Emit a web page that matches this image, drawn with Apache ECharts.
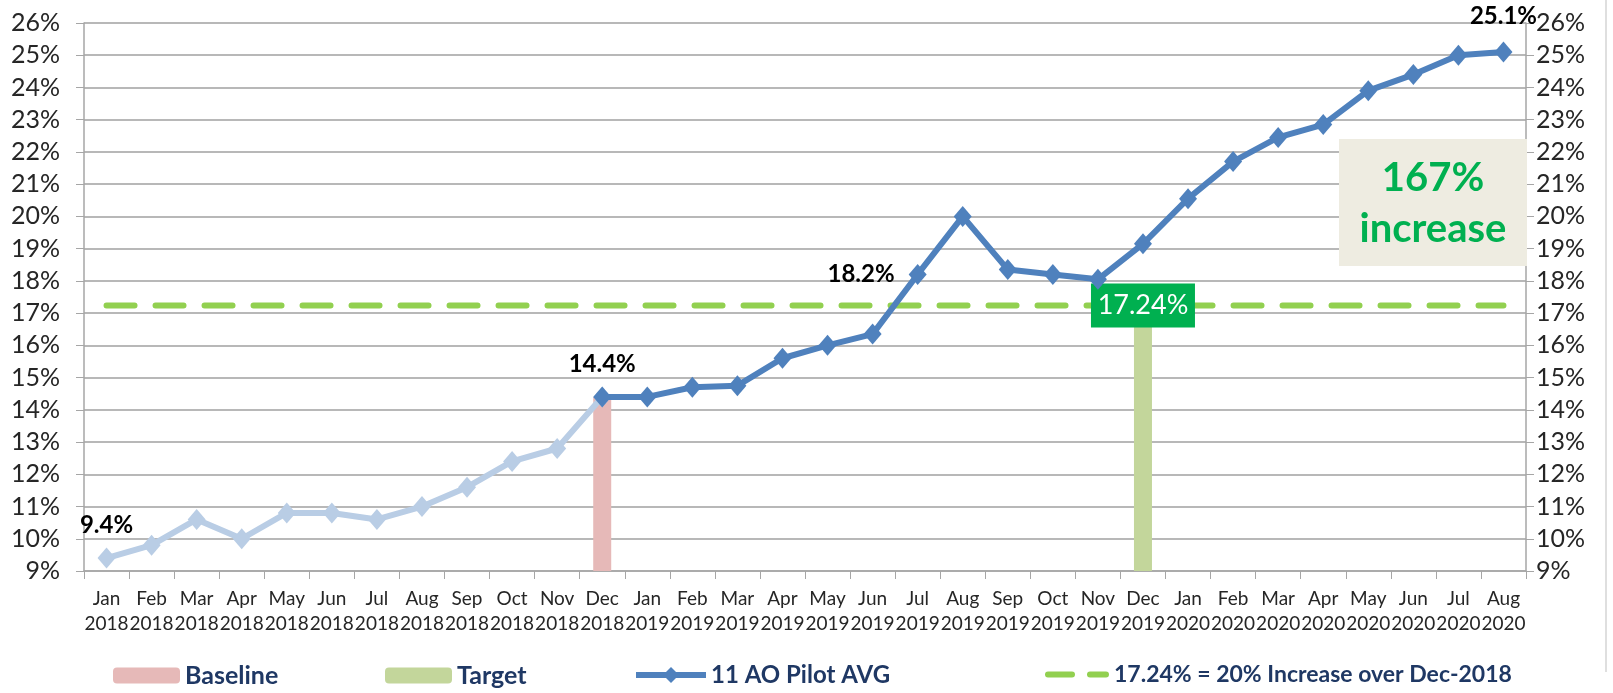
<!DOCTYPE html>
<html lang="en">
  <head>
    <meta charset="UTF-8" />
    <title>11 AO Pilot AVG</title>
    <script src="https://cdn.jsdelivr.net/npm/echarts@6/dist/echarts.min.js"></script>
    <style>
      html, body { margin: 0; padding: 0; background: #fff; }
      #main { width: 1613px; height: 693px; }
    </style>
  </head>
  <body>
    <div id="main"></div>
    <script>
      // months and years of the x axis
      var months = ['Jan', 'Feb', 'Mar', 'Apr', 'May', 'Jun', 'Jul', 'Aug', 'Sep', 'Oct', 'Nov', 'Dec',
        'Jan', 'Feb', 'Mar', 'Apr', 'May', 'Jun', 'Jul', 'Aug', 'Sep', 'Oct', 'Nov', 'Dec',
        'Jan', 'Feb', 'Mar', 'Apr', 'May', 'Jun', 'Jul', 'Aug'];
      var years = ['2018', '2018', '2018', '2018', '2018', '2018', '2018', '2018', '2018', '2018', '2018', '2018',
        '2019', '2019', '2019', '2019', '2019', '2019', '2019', '2019', '2019', '2019', '2019', '2019',
        '2020', '2020', '2020', '2020', '2020', '2020', '2020', '2020'];

      // 2018 (light line), Jan..Dec 2018
      var pre2018 = [9.4, 9.8, 10.6, 10.0, 10.8, 10.8, 10.6, 11.0, 11.6, 12.4, 12.8, 14.4];
      // 11 AO Pilot AVG, Dec 2018..Aug 2020
      var pilotAvg = [14.4, 14.4, 14.7, 14.75, 15.6, 16.0, 16.35, 18.2, 20.0, 18.35, 18.2, 18.05,
        19.15, 20.55, 21.7, 22.45, 22.85, 23.9, 24.4, 25.0, 25.1];

      var baselineMonth = 'Dec\n2018';
      var baselineValue = 14.4;
      var targetMonth = 'Dec\n2019';
      var targetValue = 17.24;

      // y axis ticks (%)
      var yMin = 9;
      var yMax = 26;
      var yStep = 1;

      var categories = months.map(function (m, i) { return m + '\n' + years[i]; });
      var n = categories.length;

      var lightData = categories.map(function (c, i) { return i < pre2018.length ? pre2018[i] : null; });
      var offset = n - pilotAvg.length;
      var darkData = categories.map(function (c, i) { return i >= offset ? pilotAvg[i - offset] : null; });
      var baselineData = categories.map(function (c) { return c === baselineMonth ? baselineValue : null; });
      var targetData = categories.map(function (c) { return c === targetMonth ? targetValue : null; });
      var targetLine = categories.map(function () { return targetValue; });

      var FONT = 'Lato';
      var ptLabel = { show: true, fontFamily: FONT, fontWeight: 'bold', fontSize: 24, color: '#000',
        formatter: function (p) { return p.value + '%'; } };

      // which points get a value label
      function labelled(data, idx, pos, dist) {
        return data.map(function (v, i) {
          var k = idx.indexOf(i);
          if (k < 0 || v === null) return v;
          return { value: v, label: Object.assign({}, ptLabel, { position: pos[k], distance: dist[k] }) };
        });
      }
      var lightSeriesData = labelled(lightData, [0], ['top'], [10]);
      var darkSeriesData = labelled(darkData, [11, 18, n - 1], ['top', 'left', 'top'], [10, 14, 13]);

      var mCharts = echarts.init(document.getElementById('main'));

      var axisGray = '#A6A6A6';
      var yLabel = { formatter: '{value}%', fontFamily: FONT, fontSize: 25, color: '#262626' };

      var legendText = { fontFamily: FONT, fontWeight: 'bold', fontSize: 24, color: '#1F3864' };
      function legendAt(name, left, extra) {
        return Object.assign({ data: [name], left: left, top: 658, itemWidth: 67, itemHeight: 16, itemGap: 0,
          textStyle: legendText, selectedMode: false }, extra || {});
      }
      // two rounded dashes for the target-line legend
      var dashIcon = 'path://M3,0H27A3,3 0 0 1 27,6H3A3,3 0 0 1 3,0Z M45,0H61A3,3 0 0 1 61,6H45A3,3 0 0 1 45,0Z';

      var option = {
        animation: false,
        grid: { left: 84, right: 87, top: 23, bottom: 122 },
        legend: [
          legendAt('Baseline', 108, { textStyle: Object.assign({}, legendText, { fontSize: 25 }) }),
          legendAt('Target', 380, { textStyle: Object.assign({}, legendText, { fontSize: 25 }) }),
          legendAt('11 AO Pilot AVG', 628, { itemWidth: 70, itemHeight: 20, lineStyle: { width: 6 } }),
          legendAt('17.24% = 20% Increase over Dec-2018', 1040,
            { data: [{ name: '17.24% = 20% Increase over Dec-2018', icon: dashIcon }], itemWidth: 64, itemHeight: 6,
              itemStyle: { color: '#92D050' }, textStyle: Object.assign({}, legendText, { fontSize: 23 }) })
        ],
        xAxis: {
          type: 'category',
          data: categories,
          axisLine: { show: true, lineStyle: { color: axisGray, width: 1.5 } },
          axisTick: { show: true, length: 8, lineStyle: { color: axisGray } },
          axisLabel: { interval: 0, fontFamily: FONT, fontSize: 19, color: '#262626', lineHeight: 25, margin: 15 }
        },
        yAxis: [
          {
            type: 'value', min: yMin, max: yMax, interval: yStep, position: 'left',
            axisLine: { show: true, lineStyle: { color: axisGray, width: 1.5 } },
            axisTick: { show: true, length: 8, lineStyle: { color: axisGray } },
            axisLabel: Object.assign({ margin: 24 }, yLabel),
            splitLine: { show: true, lineStyle: { color: '#A0A0A0', width: 1.5 } }
          },
          {
            type: 'value', min: yMin, max: yMax, interval: yStep, position: 'right',
            axisLine: { show: true, lineStyle: { color: axisGray, width: 1.5 } },
            axisTick: { show: true, length: 8, lineStyle: { color: axisGray } },
            axisLabel: Object.assign({ margin: 10 }, yLabel),
            splitLine: { show: false }
          }
        ],
        series: [
          {
            name: 'Baseline',
            type: 'bar',
            data: baselineData,
            barWidth: 18,
            barGap: '-100%',
            itemStyle: { color: '#E6B9B8' }
          },
          {
            name: 'Target',
            type: 'bar',
            data: targetData,
            barWidth: 18,
            barGap: '-100%',
            itemStyle: { color: '#C3D69B' }
          },
          {
            name: '17.24% = 20% Increase over Dec-2018',
            type: 'line',
            data: targetLine,
            symbol: 'none',
            lineStyle: { color: '#92D050', width: 6, type: [28, 21], cap: 'round' },
            itemStyle: { color: '#92D050' },
            markPoint: {
              symbol: 'rect',
              symbolSize: [104, 44],
              itemStyle: { color: '#00B050' },
              label: { show: true, color: '#fff', fontFamily: FONT, fontSize: 27, formatter: targetValue + '%' },
              data: [{ coord: [targetMonth, targetValue] }]
            },
            z: 3
          },
          {
            name: '2018',
            type: 'line',
            data: lightSeriesData,
            symbol: 'diamond',
            symbolSize: [18, 21],
            lineStyle: { color: '#B9CDE5', width: 6 },
            itemStyle: { color: '#B9CDE5' },
            z: 4
          },
          {
            name: '11 AO Pilot AVG',
            type: 'line',
            data: darkSeriesData,
            symbol: 'diamond',
            symbolSize: [18, 21],
            lineStyle: { color: '#4F81BD', width: 6 },
            itemStyle: { color: '#4F81BD' },
            z: 5
          }
        ],
        graphic: [
          {
            type: 'rect',
            left: 1339,
            top: 139,
            shape: { width: 188, height: 127 },
            style: { fill: '#EEECE1' },
            z: 10
          },
          {
            type: 'text',
            x: 1433,
            y: 178,
            style: { text: '167%', fill: '#00B050', font: 'bold 40px Lato', align: 'center', verticalAlign: 'middle' },
            z: 11
          },
          {
            type: 'text',
            x: 1433,
            y: 229,
            style: { text: 'increase', fill: '#00B050', font: 'bold 40px Lato', align: 'center', verticalAlign: 'middle' },
            z: 11
          },
          {
            // frame edge on the right
            type: 'line',
            shape: { x1: 1606, y1: 0, x2: 1606, y2: 672 },
            style: { stroke: '#BFBFBF', lineWidth: 1 },
            z: 1
          }
        ]
      };

      mCharts.setOption(option);
    </script>
  </body>
</html>
